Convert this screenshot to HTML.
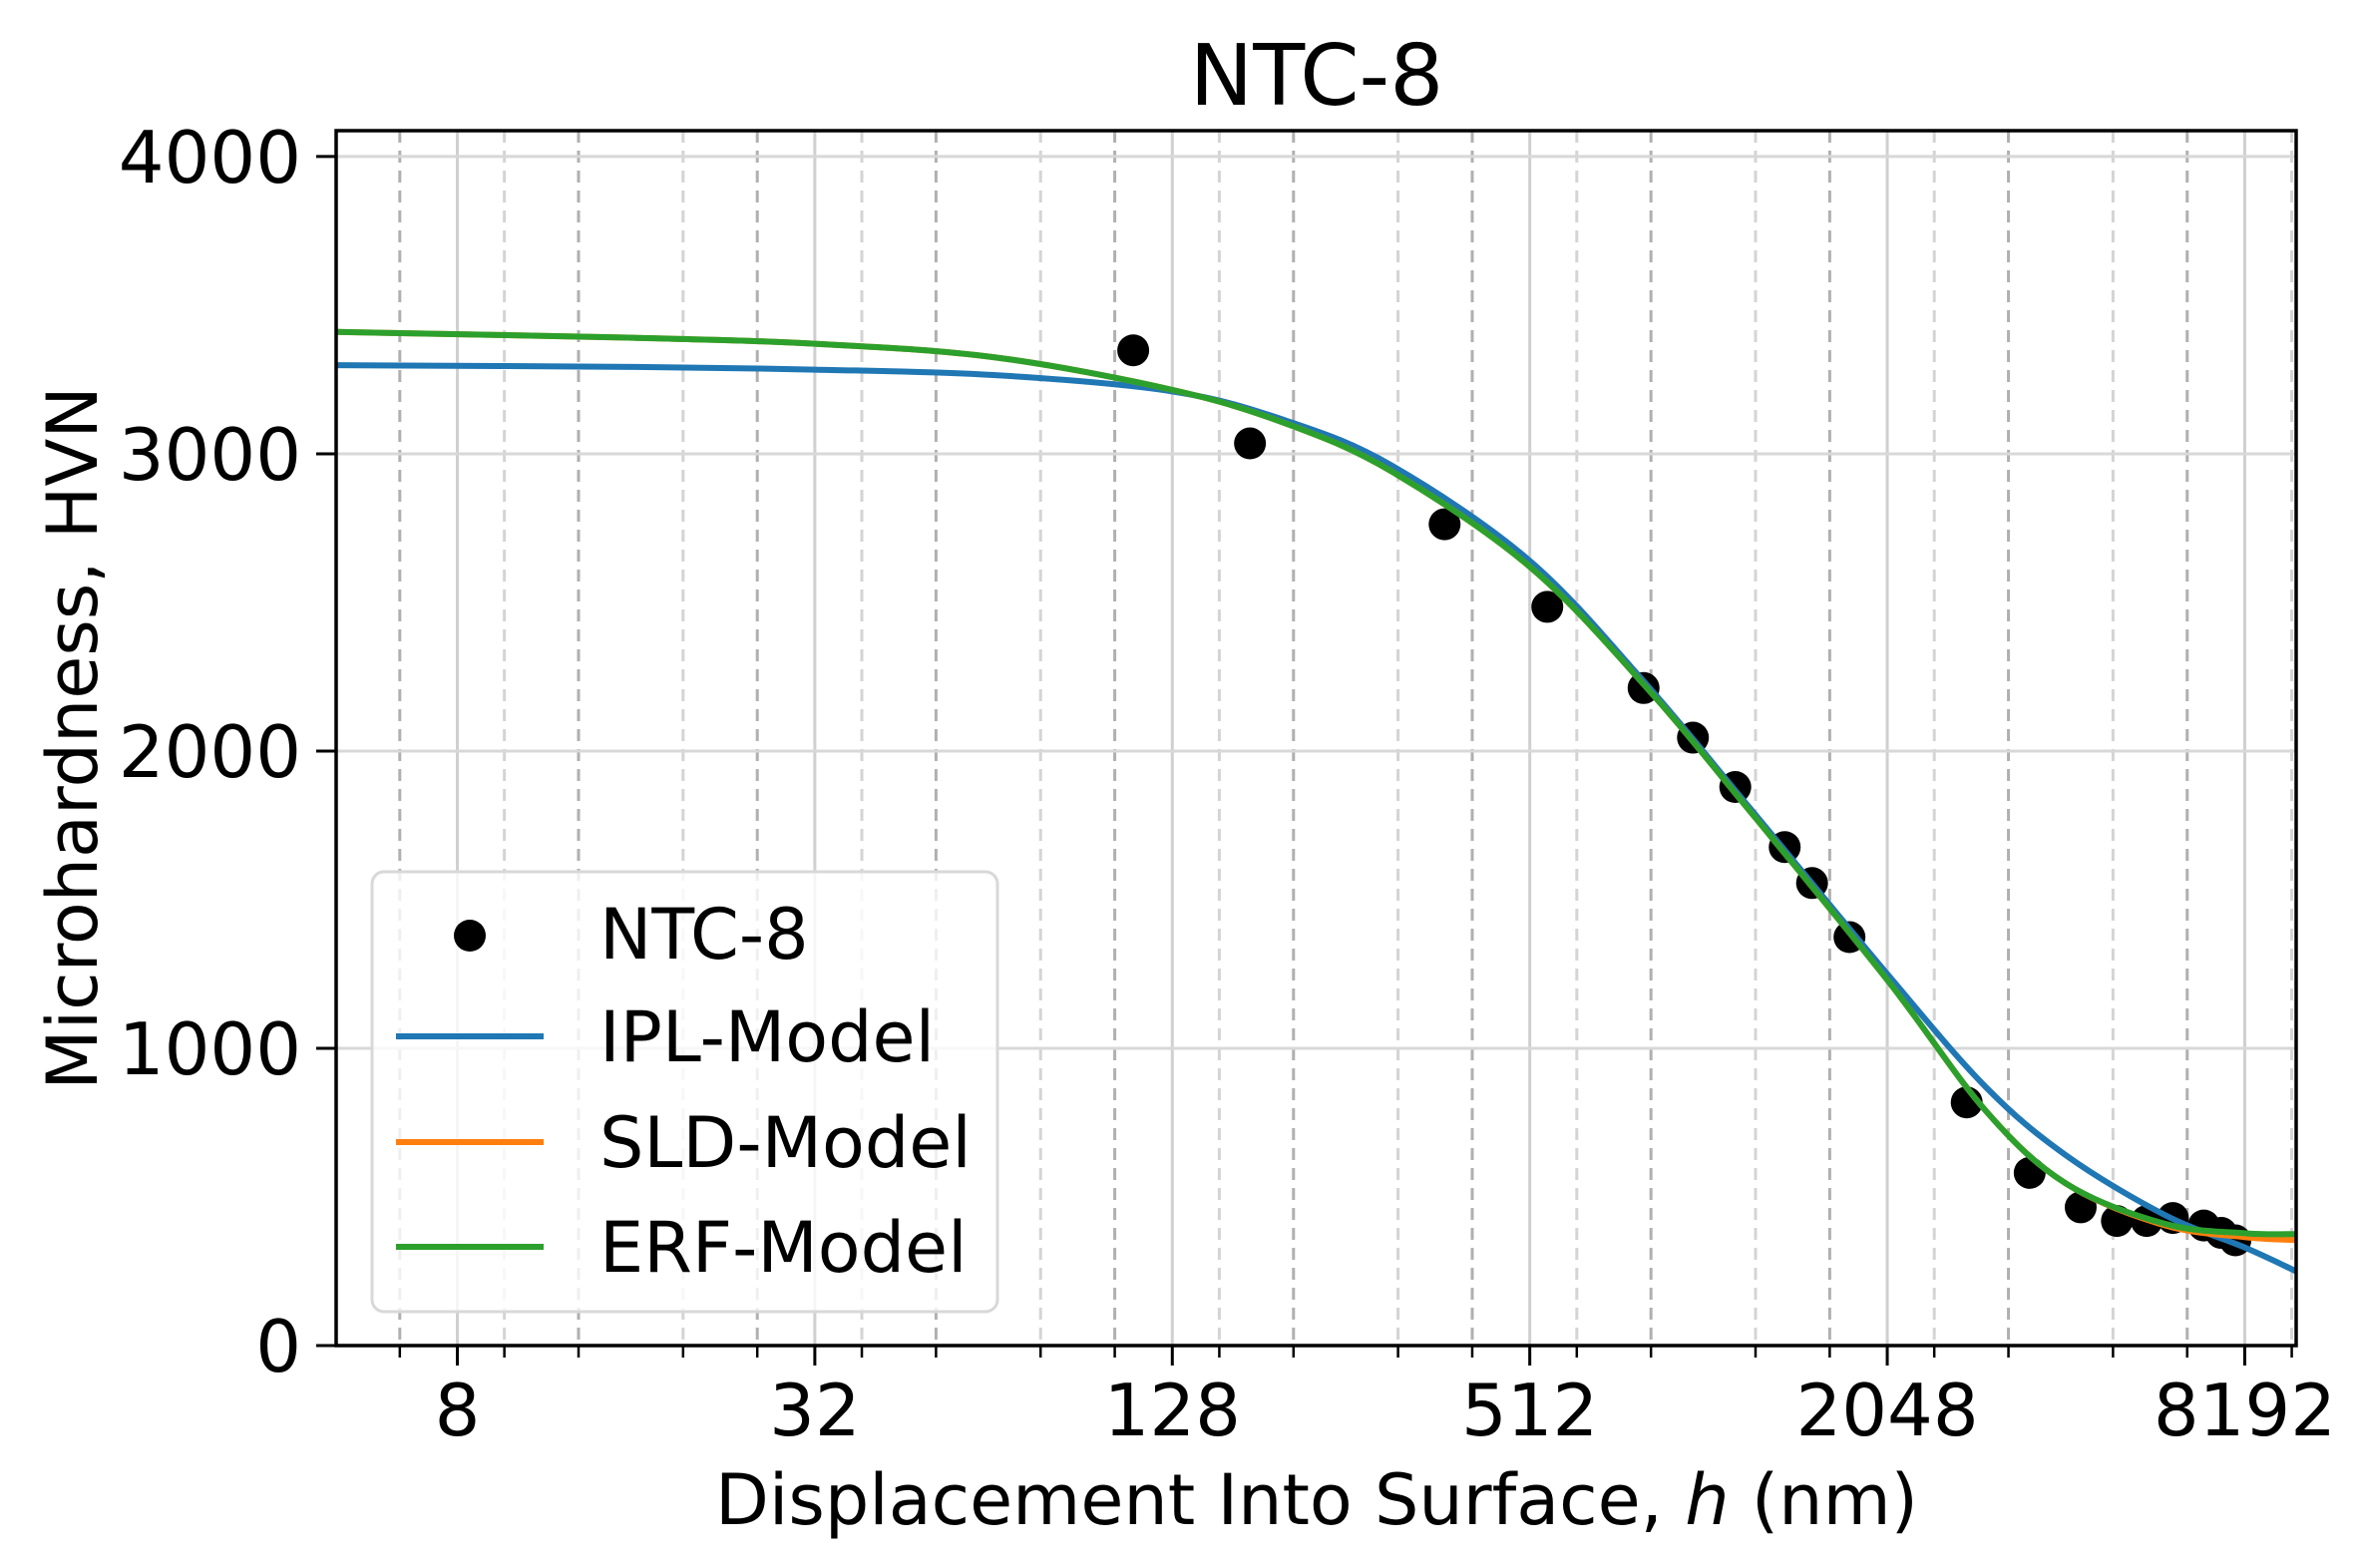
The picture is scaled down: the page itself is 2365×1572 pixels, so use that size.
<!DOCTYPE html>
<html><head><meta charset="utf-8"><style>
body{margin:0;background:#fff}
svg{display:block;font-family:"DejaVu Sans","Liberation Sans",sans-serif}
</style></head><body>
<svg id="chart" width="2365" height="1572" viewBox="0 0 2365 1572" xmlns="http://www.w3.org/2000/svg">
<rect width="2365" height="1572" fill="#fff"/>
<g id="grid"></g>
<g id="series"></g>
<g id="axes"></g>
<text x="1320" y="105" font-size="85" text-anchor="middle">NTC-8</text>
<text x="1320" y="1528" font-size="70" text-anchor="middle">Displacement Into Surface, <tspan font-style="italic">h</tspan> (nm)</text>
<text transform="translate(97,740) rotate(-90)" font-size="70" text-anchor="middle">Microhardness, HVN</text>
<g>
<rect x="373" y="874" width="627" height="441" rx="12" fill="#fff" fill-opacity="0.8" stroke="#d8d8d8" stroke-width="3"/>
<circle cx="471" cy="938" r="16" fill="#000"/>
<text x="601" y="961" font-size="70">NTC-8</text>
<line x1="397" y1="1039" x2="545" y2="1039" stroke="#1f77b4" stroke-width="6"/>
<text x="601" y="1064" font-size="70">IPL-Model</text>
<line x1="397" y1="1145" x2="545" y2="1145" stroke="#ff7f0e" stroke-width="6"/>
<text x="601" y="1170" font-size="70">SLD-Model</text>
<line x1="397" y1="1250" x2="545" y2="1250" stroke="#2ca02c" stroke-width="6"/>
<text x="601" y="1275" font-size="70">ERF-Model</text>
</g>
</svg>
<script>
const dataH = [110,173,368,548,796,964,1136,1376,1530,1769,2787,3558,4336,4990,5600,6200,6990,7480,7900];
const dataHV = [3348,3035,2763,2485,2212,2045,1879,1677,1556,1374,818,581,465,419,419,429,404,379,354];
const curveH = [5,16,32,64,128,200,300,512,800,1200,2048,3000,4096,6000,8192,10000];
const iplHV = [3298,3292,3283,3265,3210,3110,2960,2640,2230,1810,1250,870,640,440,330,250];
const sldHV = [3410,3390,3370,3325,3215,3100,2940,2620,2220,1800,1230,790,545,405,365,355];
const erfHV = [3410,3390,3370,3325,3215,3100,2940,2620,2220,1800,1230,790,545,410,378,375];
const xMajorTicks = [8,32,128,512,2048,8192];
const yTicks = [0,1000,2000,3000,4000];

const L=337,R=2302,T=131,B=1349,XMIN=5,XMAX=10000,YMIN=0,YMAX=4087;
const NS='http://www.w3.org/2000/svg';
function x(v){return L+(Math.log(v)-Math.log(XMIN))/(Math.log(XMAX)-Math.log(XMIN))*(R-L);}
function y(v){return B-(v-YMIN)/(YMAX-YMIN)*(B-T);}
function mk(tag,attrs,parent){const e=document.createElementNS(NS,tag);for(const k in attrs)e.setAttribute(k,attrs[k]);parent.appendChild(e);return e;}
const grid=document.getElementById('grid'),axes=document.getElementById('axes'),series=document.getElementById('series');
const minor=[];
for(let p=-1;p<=7;p++){const b=Math.pow(4,p);[1.2,1.6,2.4,3.2].forEach((m,i)=>{const v=m*b;if(v>XMIN&&v<XMAX)minor.push([v,i%2]);});}
minor.forEach(([v,dark])=>{
  const g=mk('line',{x1:x(v),x2:x(v),y1:T,y2:B,stroke:dark?'#b0b0b0':'#d4d4d4','stroke-width':3,'stroke-dasharray':'12,8'},grid);
  
  
  const t=mk('line',{x1:x(v),x2:x(v),y1:B,y2:B+12,stroke:'#000','stroke-width':2.5},axes);
  
  
});
xMajorTicks.forEach(v=>{
  const g=mk('line',{x1:x(v),x2:x(v),y1:T,y2:B,stroke:'#d0d0d0','stroke-width':3},grid);
  
  
  const t=mk('line',{x1:x(v),x2:x(v),y1:B,y2:B+20,stroke:'#000','stroke-width':3},axes);
  
  
  const l=mk('text',{x:x(v),y:1439,'font-size':72,'text-anchor':'middle'},axes);l.textContent=v;
  
  
});
yTicks.forEach(v=>{
  const g=mk('line',{x1:L,x2:R,y1:y(v),y2:y(v),stroke:'#d8d8d8','stroke-width':3},grid);
  
  
  const t=mk('line',{x1:L-20,x2:L,y1:y(v),y2:y(v),stroke:'#000','stroke-width':3},axes);
  
  
  const l=mk('text',{x:302,y:y(v)+26,'font-size':72,'text-anchor':'end'},axes);l.textContent=v;
  
  
});
const frame=mk('rect',{x:L,y:T,width:R-L,height:B-T,fill:'none',stroke:'#000','stroke-width':3.5},axes);


function path(hs,vs){
  const P=hs.map((h,i)=>[x(h),y(vs[i])]);
  let d='M'+P[0][0]+','+P[0][1];
  for(let i=0;i<P.length-1;i++){
    const p0=P[Math.max(0,i-1)],p1=P[i],p2=P[i+1],p3=P[Math.min(P.length-1,i+2)];
    const c1=[p1[0]+(p2[0]-p0[0])/6,p1[1]+(p2[1]-p0[1])/6],c2=[p2[0]-(p3[0]-p1[0])/6,p2[1]-(p3[1]-p1[1])/6];
    d+=' C'+c1+' '+c2+' '+p2;
  }
  return d;
}
const clip=mk('clipPath',{id:'pc'},series);mk('rect',{x:L,y:T,width:R-L,height:B-T},clip);
dataH.forEach((h,i)=>{
  const c=mk('circle',{cx:x(h),cy:y(dataHV[i]),r:16,fill:'#000'},series);
  
  
});
[[iplHV,'#1f77b4','ipl-model-line'],[sldHV,'#ff7f0e','sld-model-line'],[erfHV,'#2ca02c','erf-model-line']].forEach(([vs,c,n])=>{
  const p=mk('path',{d:path(curveH,vs),fill:'none',stroke:c,'stroke-width':6,'clip-path':'url(#pc)'},series);
  
  
});
</script>
</body></html>
